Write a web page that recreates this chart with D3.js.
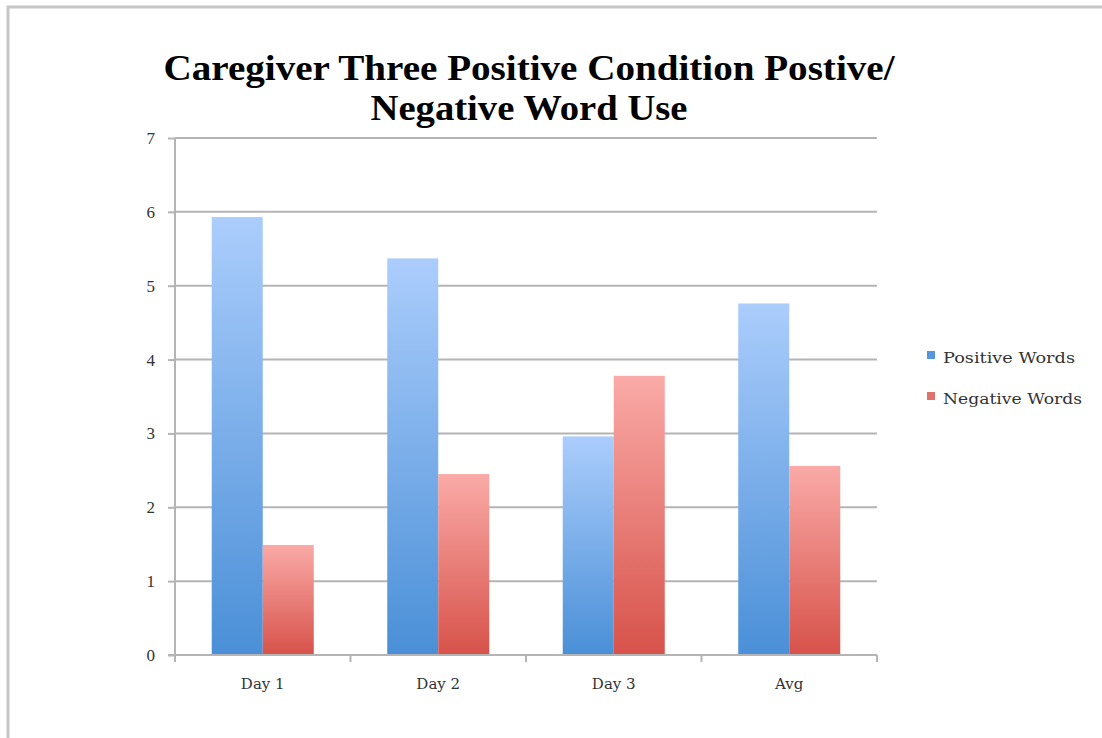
<!DOCTYPE html>
<html>
<head>
  <meta http-equiv="content-type" content="text/html; charset=utf-8">
  <title>Caregiver Three Positive Condition</title>
  <style>
    body { margin: 0; background: #fff; }
    .tick_label { font-family: "Liberation Serif", serif; font-size: 17px; fill: #333; }
    .cat_label { font-family: "DejaVu Serif", serif; font-size: 15px; fill: #333; }
    .title { font-family: "Liberation Serif", serif; font-weight: bold; font-size: 35px; fill: #000; text-anchor: middle; }
    .legend_label { font-family: "DejaVu Serif", serif; font-size: 15px; fill: #333; }
  </style>
</head>
<body>
  <svg id="canvas"></svg>
  <script src="https://d3js.org/d3.v7.min.js"></script>
  <script>
    const categories = ["Day 1", "Day 2", "Day 3", "Avg"];
    const series = ["Positive Words", "Negative Words"];
    const positive = [5.93, 5.37, 2.96, 4.76];
    const negative = [1.49, 2.45, 3.78, 2.56];
    const y_ticks = [0, 1, 2, 3, 4, 5, 6, 7];

    const dims = { width: 1102, height: 738, left: 175, right: 877, top: 138, bottom: 655 };
    const colors = [
      { id: "grad_pos", top: "#abcdfc", bottom: "#4a8fd7", swatch: "#5596dd" },
      { id: "grad_neg", top: "#faaaa7", bottom: "#d7524a", swatch: "#e0716b" }
    ];

    const svg = d3.select("svg#canvas")
      .attr("width", dims.width)
      .attr("height", dims.height);

    // frame
    svg.append("path")
      .attr("d", "M8," + dims.height + "V7H" + dims.width)
      .attr("fill", "none")
      .attr("stroke", "#c6c6c6")
      .attr("stroke-width", 3);

    const defs = svg.append("defs");
    colors.forEach(c => {
      const g = defs.append("linearGradient").attr("id", c.id)
        .attr("x1", 0).attr("y1", 0).attr("x2", 0).attr("y2", 1);
      g.append("stop").attr("offset", "0%").attr("stop-color", c.top);
      g.append("stop").attr("offset", "100%").attr("stop-color", c.bottom);
    });

    const x = d3.scaleBand().domain(categories).range([dims.left, dims.right]);
    const xs = d3.scaleBand().domain(series).range([0, x.bandwidth()]).paddingInner(0).paddingOuter(0.72);
    const y = d3.scaleLinear().domain([0, 7]).range([dims.bottom, dims.top]);

    // gridlines
    svg.append("g").selectAll("line")
      .data(y_ticks.filter(t => t > 0))
      .enter().append("line")
      .attr("x1", dims.left).attr("x2", dims.right)
      .attr("y1", t => y(t)).attr("y2", t => y(t))
      .attr("stroke", "#b4b4b4").attr("stroke-width", 2);

    // bars
    const data = categories.map((c, i) => ({ cat: c, values: [positive[i], negative[i]] }));
    const groups = svg.append("g").selectAll("g")
      .data(data)
      .enter().append("g")
      .attr("transform", d => "translate(" + x(d.cat) + ",0)");
    groups.selectAll("rect")
      .data(d => d.values.map((v, j) => ({ s: series[j], v: v, j: j })))
      .enter().append("rect")
      .attr("x", d => xs(d.s))
      .attr("width", xs.bandwidth())
      .attr("y", d => y(d.v))
      .attr("height", d => y(0) - y(d.v))
      .attr("fill", d => "url(#" + colors[d.j].id + ")");

    // y axis
    const yAxis = svg.append("g")
      .attr("transform", "translate(" + dims.left + ",0)")
      .call(d3.axisLeft(y).tickValues(y_ticks).tickSize(7).tickPadding(13).tickFormat(d3.format("d")));
    yAxis.attr("font-family", null).attr("font-size", null);
    yAxis.select(".domain").attr("stroke", "#b4b4b4").attr("stroke-width", 2).attr("d", "M0," + dims.top + "V" + dims.bottom);
    yAxis.selectAll(".tick line").attr("stroke", "#b4b4b4").attr("stroke-width", 2);
    yAxis.selectAll(".tick text").attr("class", "tick_label").attr("fill", null);

    // x axis
    const xAxis = svg.append("g")
      .attr("transform", "translate(0," + dims.bottom + ")");
    xAxis.append("line")
      .attr("x1", dims.left - 7).attr("x2", dims.right)
      .attr("stroke", "#b4b4b4").attr("stroke-width", 2);
    const edges = categories.map(c => x(c)).concat([dims.right]);
    xAxis.selectAll(".xtick")
      .data(edges)
      .enter().append("line")
      .attr("x1", d => d).attr("x2", d => d)
      .attr("y1", 0).attr("y2", 7)
      .attr("stroke", "#b4b4b4").attr("stroke-width", 2);
    xAxis.selectAll(".xlabel")
      .data(categories)
      .enter().append("text")
      .attr("class", "cat_label")
      .attr("x", c => x(c) + x.bandwidth() / 2)
      .attr("y", 34)
      .attr("text-anchor", "middle")
      .text(c => c);

    // title
    const title_lines = [
      { text: "Caregiver Three Positive Condition Postive/", y: 80, w: 731 },
      { text: "Negative Word Use", y: 120, w: 317 }
    ];
    svg.selectAll(".title")
      .data(title_lines)
      .enter().append("text")
      .attr("class", "title")
      .attr("x", 529)
      .attr("y", d => d.y)
      .attr("textLength", d => d.w)
      .attr("lengthAdjust", "spacingAndGlyphs")
      .text(d => d.text);

    // legend
    const legend = svg.append("g").attr("transform", "translate(927,0)");
    const leg = legend.selectAll("g")
      .data(series)
      .enter().append("g")
      .attr("transform", (_, i) => "translate(0," + (363 + i * 41) + ")");
    leg.append("rect")
      .attr("x", 0).attr("y", -12)
      .attr("width", 8).attr("height", 8)
      .attr("fill", (_, i) => colors[i].swatch);
    leg.append("text")
      .attr("class", "legend_label")
      .attr("x", 16)
      .attr("y", 0)
      .attr("textLength", (_, i) => i ? 139 : 132)
      .attr("lengthAdjust", "spacingAndGlyphs")
      .text(s => s);
  </script>
</body>
</html>
